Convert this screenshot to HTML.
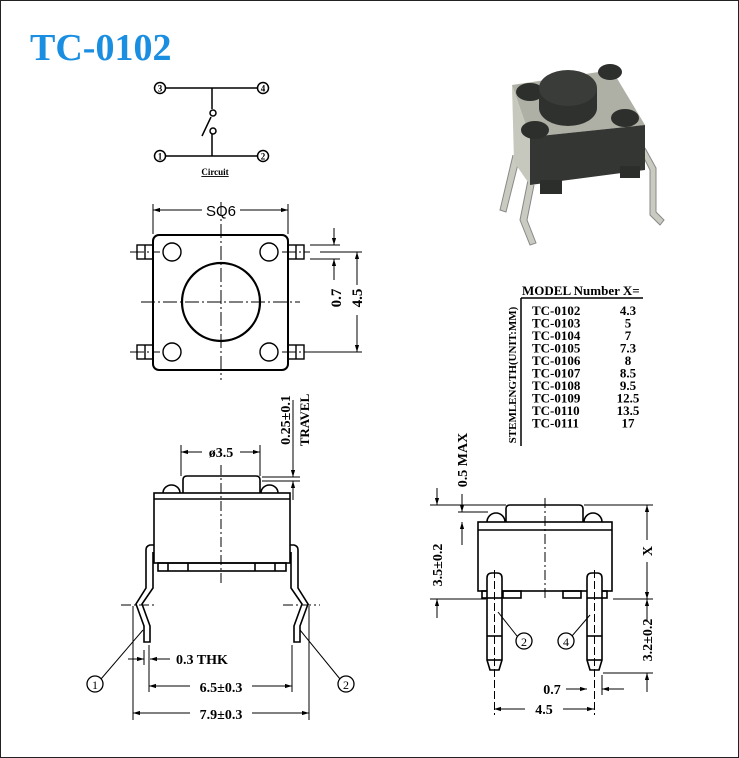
<!DOCTYPE html>
<html><head><meta charset="utf-8"><style>
html,body{margin:0;padding:0;background:#fff}
svg{display:block}
text{font-family:"Liberation Serif",serif;font-weight:bold;fill:#000}
</style></head><body>
<svg width="739" height="758" viewBox="0 0 739 758" xmlns="http://www.w3.org/2000/svg">
<defs>
<marker id="a" viewBox="0 0 10 10" refX="10" refY="5" markerWidth="7" markerHeight="7" orient="auto-start-reverse"><path d="M0,2 L10,5 L0,8 z" fill="#000"/></marker>
</defs>
<rect x="0.5" y="0.5" width="738" height="757" fill="#fff" stroke="#222" stroke-width="1"/>
<text x="30" y="60" style="font-size:38px;fill:#1a8ee0">TC-0102</text>

<!-- circuit -->
<g stroke="#000" stroke-width="1.5" fill="none">
<line x1="165" y1="88" x2="258" y2="88"/><line x1="165" y1="156" x2="258" y2="156"/>
<line x1="212" y1="88" x2="212" y2="109"/><line x1="212" y1="134" x2="212" y2="156"/>
<circle cx="213" cy="113" r="3"/><circle cx="213" cy="131" r="3"/>
<line x1="202" y1="136" x2="211" y2="117"/>
</g>
<g font-size="9"><circle cx="160" cy="88" r="5.5" fill="#fff" stroke="#000" stroke-width="1.5"/><text x="160" y="91.5" text-anchor="middle" style="font-size:9px">3</text>
<circle cx="263" cy="88" r="5.5" fill="#fff" stroke="#000" stroke-width="1.5"/><text x="263" y="91.5" text-anchor="middle" style="font-size:9px">4</text>
<circle cx="160" cy="156" r="5.5" fill="#fff" stroke="#000" stroke-width="1.5"/><text x="160" y="159.5" text-anchor="middle" style="font-size:9px">1</text>
<circle cx="263" cy="156" r="5.5" fill="#fff" stroke="#000" stroke-width="1.5"/><text x="263" y="159.5" text-anchor="middle" style="font-size:9px">2</text></g>
<text x="215" y="175" text-anchor="middle" style="font-size:9px;text-decoration:underline">Circuit</text>

<!-- top view -->
<g stroke="#000" fill="none">
<rect x="153" y="235" width="135" height="135" rx="6" stroke-width="2"/>
<circle cx="221" cy="302" r="39" stroke-width="2.2"/>
<circle cx="172" cy="252" r="9" stroke-width="1.4"/><circle cx="269" cy="252" r="9" stroke-width="1.4"/>
<circle cx="172" cy="352" r="9" stroke-width="1.4"/><circle cx="269" cy="352" r="9" stroke-width="1.4"/>
<g stroke-width="1.4">
<rect x="137" y="245" width="16" height="14"/><line x1="145" y1="245" x2="145" y2="259"/>
<rect x="137" y="345" width="16" height="14"/><line x1="145" y1="345" x2="145" y2="359"/>
<rect x="288" y="245" width="16" height="14"/><line x1="296" y1="245" x2="296" y2="259"/>
<rect x="288" y="345" width="16" height="14"/><line x1="296" y1="345" x2="296" y2="359"/>
</g>
<g stroke-width="1" stroke-dasharray="14,3,2,3">
<line x1="141" y1="302" x2="300" y2="302"/><line x1="221" y1="202" x2="221" y2="380"/>
<line x1="130" y1="252" x2="160" y2="252"/><line x1="130" y1="352" x2="160" y2="352"/>
<line x1="282" y1="252" x2="310" y2="252"/><line x1="282" y1="352" x2="310" y2="352"/>
</g>
<g stroke-width="1">
<line x1="153" y1="204" x2="153" y2="234"/><line x1="288" y1="204" x2="288" y2="234"/>
<line x1="153" y1="210" x2="202" y2="210" marker-start="url(#a)"/><line x1="240" y1="210" x2="288" y2="210" marker-end="url(#a)"/>
<line x1="310" y1="245" x2="340" y2="245"/><line x1="310" y1="259" x2="340" y2="259"/>
<line x1="334" y1="228" x2="334" y2="245" marker-end="url(#a)"/><line x1="334" y1="280" x2="334" y2="259" marker-end="url(#a)"/>
<line x1="320" y1="252" x2="362" y2="252"/><line x1="305" y1="352" x2="362" y2="352"/>
<line x1="357" y1="285" x2="357" y2="252" marker-end="url(#a)"/><line x1="357" y1="315" x2="357" y2="352" marker-end="url(#a)"/>
</g></g>
<text x="221" y="216" text-anchor="middle" style="font-size:15px;font-weight:normal;font-family:'Liberation Sans',sans-serif">SQ6</text>
<text transform="translate(341,298) rotate(-90)" text-anchor="middle" style="font-size:15px">0.7</text>
<text transform="translate(362,298) rotate(-90)" text-anchor="middle" style="font-size:15px">4.5</text>

<!-- table -->
<text x="522" y="295" style="font-size:13px">MODEL Number X=</text>
<line x1="521" y1="298" x2="643" y2="298" stroke="#000" stroke-width="1.5"/>
<line x1="521" y1="298" x2="521" y2="446" stroke="#000" stroke-width="1.5"/>
<text transform="translate(516,375) rotate(-90)" text-anchor="middle" style="font-size:11px">STEMLENGTH(UNIT:MM)</text>
<g style="font-size:13px">
<text x="532" y="315">TC-0102</text><text x="628" y="315" text-anchor="middle">4.3</text>
<text x="532" y="327.5">TC-0103</text><text x="628" y="327.5" text-anchor="middle">5</text>
<text x="532" y="340">TC-0104</text><text x="628" y="340" text-anchor="middle">7</text>
<text x="532" y="352.5">TC-0105</text><text x="628" y="352.5" text-anchor="middle">7.3</text>
<text x="532" y="365">TC-0106</text><text x="628" y="365" text-anchor="middle">8</text>
<text x="532" y="377.5">TC-0107</text><text x="628" y="377.5" text-anchor="middle">8.5</text>
<text x="532" y="390">TC-0108</text><text x="628" y="390" text-anchor="middle">9.5</text>
<text x="532" y="402.5">TC-0109</text><text x="628" y="402.5" text-anchor="middle">12.5</text>
<text x="532" y="415">TC-0110</text><text x="628" y="415" text-anchor="middle">13.5</text>
<text x="532" y="427.5">TC-0111</text><text x="628" y="427.5" text-anchor="middle">17</text>
</g>

<!-- photo -->
<g>
<path d="M513,155 L500,210 L506,212 L519,160" fill="#c9cbc0" stroke="#888" stroke-width="1"/>
<path d="M528,180 L520,220 L530,245 L536,243 L527,220 L534,185" fill="#c9cbc0" stroke="#888" stroke-width="1"/>
<path d="M640,150 L650,170 L650,215 L660,225 L664,220 L656,212 L656,168 L645,148" fill="#c9cbc0" stroke="#888" stroke-width="1"/>
<path d="M512,85 L612,70 L645,125 L530,137 Z" fill="#aeb0a6"/>
<path d="M512,85 L530,137 L530,185 L514,162 Z" fill="#c6c8bd"/>
<path d="M530,137 L645,125 L645,170 L530,185 Z" fill="#343633"/>
<rect x="540" y="180" width="22" height="14" fill="#2c2e2b"/><rect x="620" y="166" width="20" height="12" fill="#2c2e2b"/>
<ellipse cx="530" cy="92" rx="14" ry="9" fill="#2d2f2c"/><ellipse cx="610" cy="72" rx="12" ry="8" fill="#2d2f2c"/>
<ellipse cx="535" cy="130" rx="14" ry="9" fill="#2d2f2c"/><ellipse cx="625" cy="118" rx="14" ry="9" fill="#2d2f2c"/>
<path d="M539,88 L539,108 A29,18 0 0 0 597,108 L597,88 Z" fill="#2f312e"/>
<ellipse cx="568" cy="88" rx="29" ry="18" fill="#3a3c39"/>
</g>

<!-- side view left -->
<g stroke="#000" fill="none" stroke-width="1.6">
<path d="M183,493 L183,480 Q183,476 187,476 L256,476 Q260,476 260,480 L260,493"/>
<path d="M163,493 A8.5,8 0 0 1 180,493"/><path d="M261,493 A8.5,8 0 0 1 278,493"/>
<rect x="154" y="493" width="136" height="70"/><line x1="154" y1="499" x2="290" y2="499"/>
<rect x="158" y="563" width="128" height="8"/>
<line x1="168" y1="563" x2="168" y2="571"/><line x1="188" y1="563" x2="188" y2="571"/><line x1="255" y1="563" x2="255" y2="571"/><line x1="275" y1="563" x2="275" y2="571"/>
<path d="M154,545 L150,545 Q146,546 146,550 L146,588 L136,604 L144,626 L144,642 L150,642 L150,626 L142,604 L153,588 L153,552"/>
<path d="M290,545 L294,545 Q298,546 298,550 L298,588 L308,604 L300,626 L300,642 L294,642 L294,626 L302,604 L291,588 L291,552"/>
</g>
<g stroke="#000" stroke-width="1" fill="none">
<line x1="221" y1="465" x2="221" y2="585" stroke-dasharray="10,3,2,3"/>
<line x1="121" y1="605" x2="157" y2="605" stroke-dasharray="10,3,2,3"/><line x1="283" y1="605" x2="320" y2="605" stroke-dasharray="10,3,2,3"/>
<line x1="133" y1="606" x2="133" y2="720"/><line x1="309" y1="606" x2="309" y2="720"/>
<line x1="149" y1="645" x2="149" y2="692"/><line x1="292" y1="645" x2="292" y2="692"/>
<line x1="144" y1="650" x2="144" y2="665"/>
<line x1="128" y1="659" x2="144" y2="659" marker-end="url(#a)"/><line x1="170" y1="659" x2="150" y2="659" marker-end="url(#a)"/>
<line x1="149" y1="686" x2="190" y2="686" marker-start="url(#a)"/><line x1="252" y1="686" x2="292" y2="686" marker-end="url(#a)"/>
<line x1="133" y1="713" x2="190" y2="713" marker-start="url(#a)"/><line x1="252" y1="713" x2="309" y2="713" marker-end="url(#a)"/>
<line x1="181" y1="445" x2="181" y2="476"/><line x1="260" y1="445" x2="260" y2="476"/>
<line x1="181" y1="452" x2="202" y2="452" marker-start="url(#a)"/><line x1="240" y1="452" x2="260" y2="452" marker-end="url(#a)"/>
<line x1="262" y1="477" x2="300" y2="477"/><line x1="262" y1="481" x2="300" y2="481"/>
<line x1="293" y1="400" x2="293" y2="477" marker-end="url(#a)"/><line x1="293" y1="500" x2="293" y2="481" marker-end="url(#a)"/>
<line x1="101" y1="679" x2="143" y2="630"/><line x1="340" y1="679" x2="300" y2="630"/>
</g>
<text x="221" y="457" text-anchor="middle" style="font-size:14px">ø3.5</text>
<text x="176" y="664" style="font-size:14px">0.3 THK</text>
<text x="221" y="692" text-anchor="middle" style="font-size:14px">6.5±0.3</text>
<text x="221" y="719" text-anchor="middle" style="font-size:14px">7.9±0.3</text>
<text transform="translate(290,420) rotate(-90)" text-anchor="middle" style="font-size:14px">0.25±0.1</text>
<text transform="translate(309,420) rotate(-90)" text-anchor="middle" style="font-size:13px">TRAVEL</text>
<circle cx="95" cy="684" r="8" fill="#fff" stroke="#000" stroke-width="1.3"/><text x="95" y="689" text-anchor="middle" style="font-size:12px;font-weight:normal">1</text>
<circle cx="346" cy="684" r="8" fill="#fff" stroke="#000" stroke-width="1.3"/><text x="346" y="689" text-anchor="middle" style="font-size:12px;font-weight:normal">2</text>

<!-- side view right -->
<g stroke="#000" fill="none" stroke-width="1.6">
<path d="M506,522 L506,509 Q506,505 510,505 L579,505 Q583,505 583,509 L583,522"/>
<path d="M487,522 A9,9 0 0 1 505,522"/><path d="M584,522 A9,9 0 0 1 602,522"/>
<rect x="478" y="522" width="134" height="69"/><line x1="478" y1="530" x2="612" y2="530"/>
<rect x="482" y="591" width="16" height="7"/><rect x="503" y="591" width="18" height="7"/><rect x="563" y="591" width="18" height="7"/><rect x="591" y="591" width="16" height="7"/>
<path d="M487,578 Q487,573 492,573 L497,573 Q502,573 502,578 L502,660 L499,670 L490,670 L487,660 Z" fill="#fff"/>
<line x1="487" y1="598" x2="502" y2="598"/><line x1="487" y1="636" x2="502" y2="636"/><line x1="487" y1="660" x2="502" y2="660"/>
<path d="M587,578 Q587,573 592,573 L597,573 Q602,573 602,578 L602,660 L599,670 L590,670 L587,660 Z" fill="#fff"/>
<line x1="587" y1="598" x2="602" y2="598"/><line x1="587" y1="636" x2="602" y2="636"/><line x1="587" y1="660" x2="602" y2="660"/>
</g>
<g stroke="#000" stroke-width="1" fill="none">
<line x1="545" y1="498" x2="545" y2="600" stroke-dasharray="10,3,2,3"/>
<line x1="494.5" y1="570" x2="494.5" y2="715" stroke-dasharray="8,3"/><line x1="594.5" y1="570" x2="594.5" y2="715" stroke-dasharray="8,3"/>
<line x1="584" y1="505" x2="653" y2="505"/><line x1="613" y1="599" x2="653" y2="599"/><line x1="603" y1="673" x2="653" y2="673"/>
<line x1="647" y1="540" x2="647" y2="505" marker-end="url(#a)"/><line x1="647" y1="562" x2="647" y2="599" marker-end="url(#a)"/>
<line x1="647" y1="620" x2="647" y2="599" marker-end="url(#a)"/><line x1="647" y1="692" x2="647" y2="673" marker-end="url(#a)"/>
<line x1="430" y1="505" x2="506" y2="505"/><line x1="430" y1="599" x2="486" y2="599"/>
<line x1="437" y1="488" x2="437" y2="505" marker-end="url(#a)"/><line x1="437" y1="618" x2="437" y2="599" marker-end="url(#a)"/>
<line x1="458" y1="512" x2="488" y2="512"/>
<line x1="462" y1="494" x2="462" y2="512" marker-end="url(#a)"/><line x1="462" y1="545" x2="462" y2="522" marker-end="url(#a)"/>
<line x1="602" y1="675" x2="602" y2="695"/>
<line x1="494" y1="709" x2="525" y2="709" marker-start="url(#a)"/><line x1="563" y1="709" x2="594" y2="709" marker-end="url(#a)"/>
<line x1="566" y1="689" x2="587" y2="689" marker-end="url(#a)"/><line x1="624" y1="689" x2="602" y2="689" marker-end="url(#a)"/>
<line x1="517" y1="636" x2="498" y2="612"/><line x1="572" y1="636" x2="590" y2="615"/>
</g>
<text transform="translate(652,551) rotate(-90)" text-anchor="middle" style="font-size:14px">X</text>
<text transform="translate(652,640) rotate(-90)" text-anchor="middle" style="font-size:14px">3.2±0.2</text>
<text transform="translate(442,565) rotate(-90)" text-anchor="middle" style="font-size:14px">3.5±0.2</text>
<text transform="translate(467,460) rotate(-90)" text-anchor="middle" style="font-size:14px">0.5 MAX</text>
<text x="552" y="694" text-anchor="middle" style="font-size:14px">0.7</text>
<text x="544" y="714" text-anchor="middle" style="font-size:14px">4.5</text>
<circle cx="524" cy="641" r="8" fill="#fff" stroke="#000" stroke-width="1.3"/><text x="524" y="646" text-anchor="middle" style="font-size:12px;font-weight:normal">2</text>
<circle cx="566" cy="641" r="8" fill="#fff" stroke="#000" stroke-width="1.3"/><text x="566" y="646" text-anchor="middle" style="font-size:12px;font-weight:normal">4</text>
</svg>
</body></html>
